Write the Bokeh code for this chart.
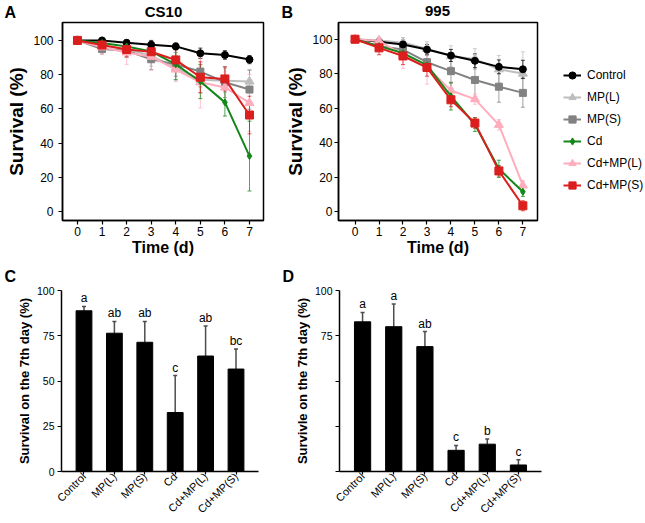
import math
from bokeh.plotting import figure
from bokeh.models import (ColumnDataSource, Whisker, TeeHead, Legend, LegendItem,
                          FixedTicker, FactorRange, Range1d)
from bokeh.layouts import row, column
from bokeh.embed import file_html
from bokeh.resources import INLINE
from bokeh.core.properties import value

FONT = "Liberation Sans"

# ---------------- data ----------------
days = [0, 1, 2, 3, 4, 5, 6, 7]
treatments = ["Control", "MP(L)", "MP(S)", "Cd", "Cd+MP(L)", "Cd+MP(S)"]
line_y_ticks = [0, 20, 40, 60, 80, 100]
bar_y_ticks = [0, 25, 50, 75, 100]

# Panel A: CS10 survival (%)
cs10_control = [100, 100, 98.6, 97.5, 96.5, 92.5, 91.5, 88.8]
cs10_mpl = [100, 97, 95, 91, 84, 77, 76.5, 76]
cs10_mps = [100, 95, 94, 89, 86, 81.8, 75.6, 71.3]
cs10_cd = [100, 98.5, 96.5, 93.6, 86, 76, 63.8, 32.4]
cs10_cdmpl = [100, 96, 93, 90.5, 83, 75.5, 72.5, 63.5]
cs10_cdmps = [100, 97.3, 94.7, 93.4, 88.6, 78.5, 77.5, 56.4]
cs10_control_err = [0, 1.5, 1.5, 2.5, 2, 3, 2.5, 2.4]
cs10_mpl_err = [0, 4, 5, 6, 7, 8, 7, 6.5]
cs10_mps_err = [0, 3, 4, 6, 7, 9, 9, 11.5]
cs10_cd_err = [0, 2.5, 4, 5, 9, 10, 8, 20.4]
cs10_cdmpl_err = [0, 4, 7, 8, 7, 15, 9, 16.6]
cs10_cdmps_err = [0, 3, 4, 6, 6, 9, 7, 11]

# Panel B: 995 survival (%)
s995_control = [100, 98.5, 97, 94, 90.6, 87.5, 84, 82.6]
s995_mpl = [100, 99.2, 98, 94.5, 90.2, 88.5, 82.6, 80.1]
s995_mps = [100, 96, 94, 86.7, 81.5, 76.4, 72.5, 68.9]
s995_cd = [100, 96, 92, 85, 67, 50.6, 24.9, 11.6]
s995_cdmpl = [100, 99, 91, 84, 70.3, 65.3, 50.4, 15.3]
s995_cdmps = [100, 95, 90.3, 83.6, 64.9, 51.4, 23.7, 3.5]
s995_control_err = [0, 2.5, 2.5, 3, 3.5, 4, 4, 5.2]
s995_mpl_err = [0, 2, 3, 4, 6, 6, 8, 12.6]
s995_mps_err = [0, 3, 4, 5, 7, 10, 9, 8.3]
s995_cd_err = [0, 2, 3, 3, 8, 4, 5, 2.7]
s995_cdmpl_err = [0, 2, 8, 10, 5, 3, 3, 2.9]
s995_cdmps_err = [0, 4, 5, 5, 4, 3, 3, 2.9]

# Panel C / D: survival on the 7th day (%)
cs10_day7 = [88.8, 76.4, 71.4, 32.6, 63.8, 56.6]
cs10_day7_err = [2.4, 6.5, 11.5, 20.4, 16.6, 11.1]
cs10_letters = ["a", "ab", "ab", "c", "ab", "bc"]
s995_day7 = [82.7, 80.0, 69.0, 11.7, 15.1, 3.6]
s995_day7_err = [5.2, 12.6, 8.3, 2.7, 2.9, 2.9]
s995_letters = ["a", "a", "ab", "c", "b", "c"]

# panel headings
top_texts = ["A", "CS10", "B", "995"]
bottom_texts = ["C", "D"]

# ---------------- styles ----------------
STYLE = {
    "Control": dict(color="#000000", marker="circle", size=7),
    "MP(L)": dict(color="#bdbdbd", marker="triangle", size=9),
    "MP(S)": dict(color="#828282", marker="square", size=7),
    "Cd": dict(color="#14871a", marker="diamond", size=7),
    "Cd+MP(L)": dict(color="#ffadbd", marker="triangle", size=9),
    "Cd+MP(S)": dict(color="#dc1e1e", marker="square", size=8),
}
DRAW_ORDER = ["MP(L)", "MP(S)", "Control", "Cd+MP(L)", "Cd", "Cd+MP(S)"]


def style_axes(p, tick_font, label_font):
    for ax in (p.xaxis, p.yaxis):
        ax.axis_line_color = "black"
        ax.axis_line_width = 1.5
        ax.major_tick_line_color = "black"
        ax.major_tick_line_width = 1.2
        ax.major_tick_in = 0
        ax.major_tick_out = 4
        ax.minor_tick_line_color = None
        ax.major_label_text_font = FONT
        ax.major_label_text_font_size = tick_font
        ax.major_label_text_color = "black"
        ax.axis_label_text_font = FONT
        ax.axis_label_text_font_style = "bold"
        ax.axis_label_text_font_size = label_font
        ax.axis_label_text_color = "black"
    p.grid.visible = False


def bare_figure(width, height, xr, yr):
    p = figure(width=width, height=height, x_range=xr, y_range=yr,
               x_axis_type=None, y_axis_type=None, output_backend="svg", toolbar_location=None,
               min_border=0, min_border_left=0, min_border_right=0, min_border_top=0,
               min_border_bottom=0)
    p.outline_line_color = None
    p.grid.visible = False
    return p


def header(width, height, xs, ys, texts, aligns, sizes):
    p = bare_figure(width, height, Range1d(0, width), Range1d(height, 0))
    src = ColumnDataSource(dict(x=xs, y=ys, t=texts, a=aligns, s=sizes))
    p.text(x="x", y="y", text="t", text_align="a", text_font_size="s", source=src,
           text_baseline="middle", text_font=value(FONT), text_font_style="bold",
           text_color="black")
    return p


def add_series(p, name, src):
    st = STYLE[name]
    l = p.line("day", "mean", source=src, line_color=st["color"], line_width=2)
    s = p.scatter("day", "mean", source=src, marker=st["marker"], size=st["size"],
                  fill_color=st["color"], line_color=st["color"])
    return [l, s]


def line_panel(width, height, borders, xr, yr, data, y_standoff):
    bl, br, bt, bb = borders
    p = figure(width=width, height=height, x_range=Range1d(*xr), y_range=Range1d(*yr),
               output_backend="svg", toolbar_location=None,
               min_border_left=bl, min_border_right=br, min_border_top=bt, min_border_bottom=bb)
    p.outline_line_color = "black"
    p.outline_line_width = 1.5
    p.outline_line_alpha = 1.0
    style_axes(p, "12px", "16px")
    p.yaxis.axis_label_text_font_size = "19px"
    p.xaxis.ticker = FixedTicker(ticks=days)
    p.yaxis.ticker = FixedTicker(ticks=line_y_ticks)
    p.xaxis.axis_label = "Time (d)"
    p.yaxis.axis_label = "Survival (%)"
    p.xaxis.major_label_standoff = 2
    p.xaxis.axis_label_standoff = 0
    p.yaxis.major_label_standoff = y_standoff
    p.yaxis.axis_label_standoff = 3

    for name in DRAW_ORDER:
        mean, err = data[name]
        st = STYLE[name]
        src = ColumnDataSource(dict(
            day=days, mean=mean,
            lo=[m - e for m, e in zip(mean, err)],
            hi=[m + e for m, e in zip(mean, err)]))
        w = Whisker(base="day", lower="lo", upper="hi", source=src,
                    line_color=st["color"], line_width=1, line_alpha=0.75,
                    upper_head=TeeHead(size=4, line_color=st["color"], line_alpha=0.75, line_width=1),
                    lower_head=TeeHead(size=4, line_color=st["color"], line_alpha=0.75, line_width=1))
        p.add_layout(w)
        add_series(p, name, src)
    return p


def legend_panel(width, height, loc, data):
    # the series are drawn out of view; only the legend (their key) is shown
    p = bare_figure(width, height, Range1d(-20, -19), Range1d(-20, -19))
    items = []
    for name in treatments:
        mean, _ = data[name]
        src = ColumnDataSource(dict(day=days, mean=mean))
        items.append(LegendItem(label=name, renderers=add_series(p, name, src)))
    leg = Legend(items=items, location=loc)
    leg.glyph_width = 18
    leg.glyph_height = 20
    leg.label_height = 20
    leg.spacing = 2
    leg.padding = 0
    leg.margin = 0
    leg.label_standoff = 6
    leg.border_line_color = None
    leg.background_fill_alpha = 0
    leg.label_text_font = FONT
    leg.label_text_font_size = "12px"
    leg.label_text_color = "black"
    p.add_layout(leg)
    return p


def bar_panel(width, height, borders, vals, errs, letters, ylabel, hide_labels=False):
    bl, br, bt, bb = borders
    p = figure(width=width, height=height,
               x_range=FactorRange(factors=treatments, range_padding=0.24, range_padding_units="absolute"),
               y_range=Range1d(0, 100),
               output_backend="svg", toolbar_location=None,
               min_border_left=bl, min_border_right=br, min_border_top=bt, min_border_bottom=bb)
    p.outline_line_color = None
    style_axes(p, "10.5px", "13px")
    p.xaxis.major_label_text_font_size = "11px"
    p.yaxis.ticker = FixedTicker(ticks=bar_y_ticks)
    p.yaxis.axis_label = ylabel
    p.yaxis.major_label_standoff = 3
    p.yaxis.axis_label_standoff = 2
    p.xaxis.major_tick_out = 3
    p.xaxis.major_label_standoff = 0
    p.xaxis.major_label_orientation = math.pi / 4
    if hide_labels:
        p.yaxis.major_label_overrides = {0: "", 25: "", 50: ""}

    tops = [v + e for v, e in zip(vals, errs)]
    src = ColumnDataSource(dict(t=treatments, v=vals, top=tops, lab=letters))
    p.segment(x0="t", y0="v", x1="t", y1="top", source=src, line_color="#4d4d4d", line_width=1.5)
    p.scatter(x="t", y="top", source=src, marker="dash", size=4, line_color="#4d4d4d", line_width=1.5)
    p.vbar(x="t", top="v", width=0.52, source=src, fill_color="black", line_color="black")
    p.text(x="t", y="top", text="lab", source=src, y_offset=-1, text_align="center",
           text_baseline="bottom", text_font=value(FONT), text_font_size="12px", text_color="black")
    return p


cs10_data = {
    "Control": (cs10_control, cs10_control_err),
    "MP(L)": (cs10_mpl, cs10_mpl_err),
    "MP(S)": (cs10_mps, cs10_mps_err),
    "Cd": (cs10_cd, cs10_cd_err),
    "Cd+MP(L)": (cs10_cdmpl, cs10_cdmpl_err),
    "Cd+MP(S)": (cs10_cdmps, cs10_cdmps_err),
}
s995_data = {
    "Control": (s995_control, s995_control_err),
    "MP(L)": (s995_mpl, s995_mpl_err),
    "MP(S)": (s995_mps, s995_mps_err),
    "Cd": (s995_cd, s995_cd_err),
    "Cd+MP(L)": (s995_cdmpl, s995_cdmpl_err),
    "Cd+MP(S)": (s995_cdmps, s995_cdmps_err),
}

h1 = header(644, 20, [4, 163, 281, 437], [12, 10.5, 12, 10.5], top_texts,
            ["left", "center", "left", "center"], ["16px", "15px", "16px", "15px"])
pA = line_panel(282, 242, (62, 19, 2, 41), (-0.61, 7.57), (-5.23, 110.47), cs10_data, 5)
pB = line_panel(260, 242, (51, 5, 2, 42), (-0.69, 7.61), (-5.04, 109.7), s995_data, 2)
pL = legend_panel(102, 242, (21, 25), s995_data)
h2 = header(644, 22, [4, 282], [14, 14], bottom_texts, ["left", "left"], ["16px", "16px"])
pC = bar_panel(282, 238, (61, 24, 6, 47), cs10_day7, cs10_day7_err, cs10_letters,
               "Survival on the 7th day (%)")
pD = bar_panel(362, 238, (57, 103, 6, 47), s995_day7, s995_day7_err, s995_letters,
               "Survivle on the 7th day (%)", hide_labels=True)

layout = column(h1, row(pA, pB, pL), h2, row(pC, pD))
open("out.html", "w").write(file_html(layout, INLINE))
